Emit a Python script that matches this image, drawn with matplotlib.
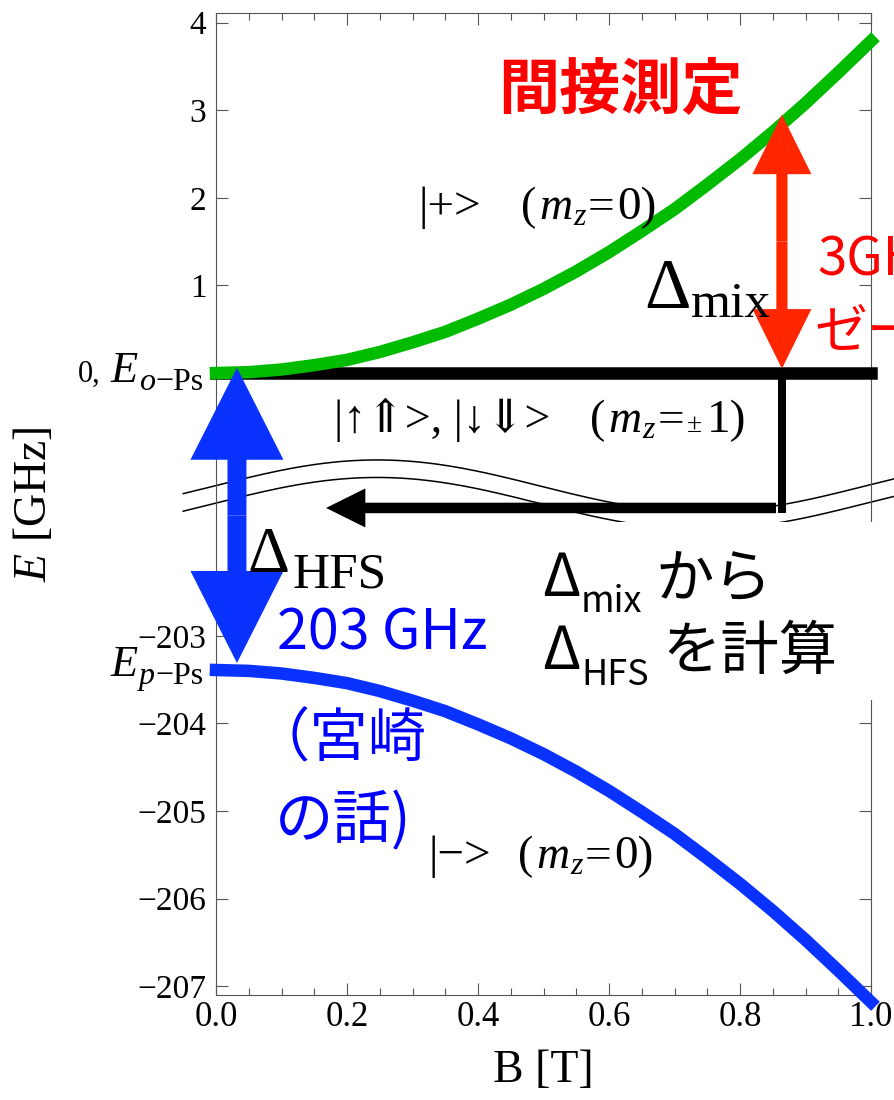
import numpy as np
import matplotlib
matplotlib.use("Agg")
import matplotlib.pyplot as plt
from matplotlib.patches import FancyArrow, Rectangle
from matplotlib.ticker import MultipleLocator, NullLocator

W, H = 894, 1100
SERIF = ['Liberation Serif', 'DejaVu Serif']
SANS = ['Noto Sans CJK JP', 'DejaVu Sans']
plt.rcParams['font.family'] = SERIF
plt.rcParams['mathtext.fontset'] = 'custom'
plt.rcParams['mathtext.rm'] = 'Liberation Serif'
plt.rcParams['mathtext.it'] = 'Liberation Serif:italic'
plt.rcParams['mathtext.bf'] = 'Liberation Serif:bold'

# ---------------- data (GHz vs Tesla) ----------------
B_FIELD = [0.0, 0.05, 0.1, 0.15, 0.2, 0.25, 0.3, 0.35, 0.4, 0.45, 0.5,
           0.55, 0.6, 0.65, 0.7, 0.75, 0.8, 0.85, 0.9, 0.95, 1.0]
E_PLUS = [0.0, 0.01, 0.04, 0.09, 0.15, 0.24, 0.35, 0.47, 0.62, 0.78, 0.96,
          1.16, 1.38, 1.62, 1.87, 2.15, 2.44, 2.75, 3.08, 3.43, 3.79]
E_MINUS = [-203.39, -203.40, -203.43, -203.48, -203.54, -203.63, -203.74,
           -203.86, -204.01, -204.17, -204.35, -204.55, -204.77, -205.01,
           -205.26, -205.54, -205.83, -206.14, -206.47, -206.82, -207.18]
E_OPS = 0.0          # |up up>, |down down> (m_z = +-1)
E_PPS = -203.39      # p-Ps level at B = 0
B_MIX = 0.864        # field where Delta_mix is indicated
MIX_TOP = 2.95       # red arrow top (GHz)
HFS_ARROW_B = 0.032  # blue arrow position
HFS_ARROW_TOP = 0.06
HFS_ARROW_BOT = -203.31
CALC_ARROW_FROM = 0.855
CALC_ARROW_TO = 0.168
CALC_ARROW_E = -201.54   # in lower-panel units (drawn inside the break)
CALC_LINE_BOTTOM = -201.60

UPPER_TICKS = [0, 1, 2, 3, 4]
LOWER_TICKS = [-203, -204, -205, -206, -207]
LOWER_SHIFT = 200.0  # broken axis: lower panel shifted up by 200 GHz

GREEN = '#00BB00'
BLUE = '#0A32FF'
RED_ARROW = '#FF2600'
RED_TEXT = '#FF0000'
BLUE_TEXT = '#0000FF'

fig = plt.figure(figsize=(W / 100, H / 100), dpi=100)
ax = fig.add_axes([216 / W, 1 - 995 / H, (871 - 216) / W, (995 - 13) / H])
ax.set_xlim(0, 1)
ax.set_ylim(-7.10, 4.11)

lower = np.array(E_MINUS) + LOWER_SHIFT

ax.plot([B_FIELD[0], B_FIELD[-1]], [E_OPS, E_OPS], color='black', lw=9,
        solid_capstyle='projecting', clip_on=False, zorder=3)
ax.plot(B_FIELD, E_PLUS, color=GREEN, lw=9, solid_capstyle='projecting',
        clip_on=False, zorder=4)
ax.plot(B_FIELD, lower, color=BLUE, lw=9, solid_capstyle='projecting',
        clip_on=False, zorder=4)

# vertical black line + arrow to the left
ax.plot([B_MIX, B_MIX], [E_OPS, CALC_LINE_BOTTOM + LOWER_SHIFT], color='black',
        lw=5.8, solid_capstyle='butt', clip_on=False, zorder=5)
ax.add_patch(FancyArrow(CALC_ARROW_FROM, CALC_ARROW_E + LOWER_SHIFT,
                        CALC_ARROW_TO - CALC_ARROW_FROM, 0, width=0.12,
                        head_width=0.445, head_length=0.06,
                        length_includes_head=True, color='black', lw=0,
                        clip_on=False, zorder=5))


def double_arrow(x, y0, y1, width, head_width, head_length, color):
    mid = 0.5 * (y0 + y1)
    for end in (y0, y1):
        ax.add_patch(FancyArrow(x, mid, 0, end - mid, width=width,
                                head_width=head_width, head_length=head_length,
                                length_includes_head=True, color=color, lw=0,
                                clip_on=False, zorder=6))


double_arrow(B_MIX, 0.05, MIX_TOP, 0.017, 0.090, 0.68, RED_ARROW)
double_arrow(HFS_ARROW_B, HFS_ARROW_TOP, HFS_ARROW_BOT + LOWER_SHIFT,
             0.029, 0.142, 1.05, BLUE)

# axis-break marks
xb = np.linspace(-0.05, 1.037, 300)
yb = -1.289 + 0.297 * np.cos(2 * np.pi * (xb - 0.246) / 0.994)
ax.plot(xb, yb, color='black', lw=1.1, clip_on=False, zorder=2)
ax.plot(xb, yb - 0.20, color='black', lw=1.1, clip_on=False, zorder=2)

# ticks
ax.xaxis.set_major_locator(MultipleLocator(0.2))
ax.xaxis.set_minor_locator(MultipleLocator(0.05))
ax.yaxis.set_minor_locator(NullLocator())
yt = UPPER_TICKS + [LOWER_TICKS[0] + LOWER_SHIFT, E_PPS + LOWER_SHIFT] + \
     [t + LOWER_SHIFT for t in LOWER_TICKS[1:]]
ylabels = [str(t) for t in UPPER_TICKS]
ylabels[0] = ''   # drawn below as "0, E_o-Ps"
ylabels += ['\u2212' + str(-LOWER_TICKS[0]), ''] + \
           ['\u2212' + str(-t) for t in LOWER_TICKS[1:]]
ax.set_yticks(yt, ylabels)
ax.tick_params(which='both', direction='in', top=True, right=True,
               color='#555555', width=0.8)
ax.tick_params(which='major', length=8.6)
ax.tick_params(which='minor', length=5)
ax.tick_params(axis='x', labelsize=25, pad=4)
ax.tick_params(axis='y', labelsize=24, pad=7)
for s in ax.spines.values():
    s.set_color('#555555')
    s.set_linewidth(0.8)

ax.set_xlabel('B [T]', fontsize=33)
ax.xaxis.set_label_coords(0.5, -0.056)
ax.set_ylabel(r'$E$ [GHz]', fontsize=33)
ax.yaxis.set_label_coords(-0.245, 0.5)

# white text-box behind the calculation note
fig.add_artist(Rectangle((530 / W, 1 - 700 / H), (W - 530) / W, (700 - 522) / H,
                         transform=fig.transFigure, facecolor='white',
                         edgecolor='none', zorder=1))

fig.canvas.draw()
R = fig.canvas.get_renderer()


def runs(x, y, parts, color='black', family=SERIF, ha='left'):
    texts, cur = [], 0.0
    for p in parts:
        s, size = p[0], p[1]
        dy = p[2] if len(p) > 2 else 0
        gap = p[3] if len(p) > 3 else 0
        style = p[4] if len(p) > 4 else 'normal'
        cur += gap
        t = fig.text(0, 0, s, fontsize=size, family=family, style=style,
                     color=color, ha='left', va='baseline', zorder=5)
        texts.append((t, cur, dy))
        cur += t.get_window_extent(renderer=R).width
    x0 = x - cur if ha == 'right' else x
    for t, off, dy in texts:
        t.set_position(((x0 + off) / W, 1 - (y + dy) / H))


# special y tick labels (right-aligned next to the ticks)
runs(204, 382, [('0,', 22), ('E', 32, 0, 10, 'italic'),
                ('o', 23, 8, 1, 'italic'), ('\u2212Ps', 23, 8, 1)], ha='right')
runs(204, 676, [('E', 32, 0, 0, 'italic'),
                ('p', 23, 8, 1, 'italic'), ('\u2212Ps', 23, 8, 1)], ha='right')

runs(418, 219, [('|+>', 34), ('(', 33, 0, 40), ('m', 33, 0, 3, 'italic'),
                ('z', 23, 6, 1, 'italic'), ('=', 34, 0, 2), ('0)', 34, 0, 3)])
runs(334, 432, [('|\u2191\u21d1>, |\u2193\u21d3>', 33), ('(', 33, 0, 40),
                ('m', 33, 0, 3, 'italic'), ('z', 23, 6, 1, 'italic'),
                ('=', 34, 0, 2), ('\u00b1', 20, 0, 3), ('1)', 34, 0, 5)])
runs(428, 868, [('|\u2212>', 34), ('(', 33, 0, 27), ('m', 33, 0, 3, 'italic'),
                ('z', 23, 6, 1, 'italic'), ('=', 34, 0, 2), ('0)', 34, 0, 3)])
runs(644, 308, [('\u0394', 52), ('mix', 37, 9, 0)])
runs(247, 572, [('\u0394', 47), ('HFS', 37, 15, 3)])
runs(542, 596, [('\u0394', 42), ('mix', 26, 16, 1), ('から', 42, 0, 13)],
     family=SANS)
runs(542, 669, [('\u0394', 42), ('HFS', 26, 16, 1), ('を計算', 42, 0, 14)],
     family=SANS)

fig.text(498 / W, 1 - 109 / H, '間接測定', fontsize=44, fontweight='bold',
         color=RED_TEXT, family=SANS, ha='left', va='baseline')
fig.text(817 / W, 1 - 275 / H, '3GHz', fontsize=38, color=RED_TEXT,
         family=SANS, ha='left', va='baseline')
fig.text(815 / W, 1 - 348 / H, 'ゼーマン', fontsize=38, color=RED_TEXT,
         family=SANS, ha='left', va='baseline')
fig.text(277 / W, 1 - 650 / H, '203 GHz', fontsize=40, color=BLUE_TEXT,
         family=SANS, ha='left', va='baseline')
fig.text(252 / W, 1 - 756 / H, '（宮崎', fontsize=42, color=BLUE_TEXT,
         family=SANS, ha='left', va='baseline')
fig.text(275 / W, 1 - 838 / H, 'の話)', fontsize=42, color=BLUE_TEXT,
         family=SANS, ha='left', va='baseline')

fig.savefig('out.png', dpi=100)
